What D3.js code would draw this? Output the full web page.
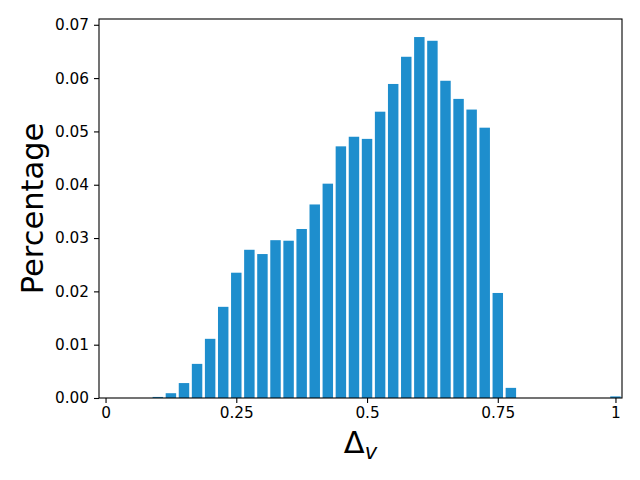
<!DOCTYPE html>
<html>
<head>
<meta charset="utf-8">
<script src="https://cdn.jsdelivr.net/npm/d3@7"></script>
<style>
  body { margin: 0; background: #fff; }
  svg { display: block; font-family: "DejaVu Sans", sans-serif; }
</style>
</head>
<body>
<svg id="chart" width="640" height="480"></svg>
<script>
// bin index on the x axis (40 bins)
var binIndex = d3.range(40);
// share of samples in each bin
var percentage = [
    0, 0, 0, 0, 0.0002, 0.0009, 0.0028, 0.0064, 0.0111, 0.0171,
    0.0235, 0.0278, 0.0270, 0.0296, 0.0295, 0.0317, 0.0363, 0.0402, 0.0472, 0.0490,
    0.0486, 0.0537, 0.0589, 0.0640, 0.0677, 0.0670, 0.0595, 0.0561, 0.0541, 0.0507,
    0.0197, 0.0019, 0, 0, 0, 0, 0, 0, 0, 0.0003
];
var xTickPos = [0, 10, 20, 30, 39];
var xTickLabels = ["0", "0.25", "0.5", "0.75", "1"];
var yTicks = [0, 0.01, 0.02, 0.03, 0.04, 0.05, 0.06, 0.07];

var plotLeft = 99, plotRight = 622, plotTop = 19, plotBottom = 398;
var barColor = "#1e8ecd";

var svg = d3.select("#chart");

var x = d3.scaleLinear().domain([-0.5, 39.5]).range([plotLeft, plotRight]);
var y = d3.scaleLinear().domain([0, d3.max(percentage) * 1.05]).range([plotBottom, plotTop]);

var data = binIndex.map(function (i) { return { i: i, v: percentage[i] }; });

svg.append("g").selectAll("rect")
    .data(data)
    .enter()
    .append("rect")
    .attr("x", function (d) { return x(d.i - 0.4); })
    .attr("width", function (d) { return x(d.i + 0.4) - x(d.i - 0.4); })
    .attr("y", function (d) { return y(d.v); })
    .attr("height", function (d) { return y(0) - y(d.v); })
    .attr("fill", barColor);

// axes
var xAxis = d3.axisBottom(x)
    .tickValues(xTickPos)
    .tickFormat(function (d, k) { return xTickLabels[k]; })
    .tickSize(5)
    .tickPadding(4);
var yAxis = d3.axisLeft(y)
    .tickValues(yTicks)
    .tickFormat(d3.format(".2f"))
    .tickSize(5)
    .tickPadding(5);

var gx = svg.append("g").attr("transform", "translate(0," + plotBottom + ")").call(xAxis);
var gy = svg.append("g").attr("transform", "translate(" + plotLeft + ",0)").call(yAxis);
[gx, gy].forEach(function (g) {
    g.attr("font-size", 15.3).attr("font-family", "DejaVu Sans");
    g.select(".domain").remove();
    g.selectAll("text").attr("fill", "#000");
    g.selectAll("line").attr("stroke", "#000").attr("stroke-width", 1.1);
});

// frame
svg.append("rect")
    .attr("x", plotLeft).attr("y", plotTop)
    .attr("width", plotRight - plotLeft).attr("height", plotBottom - plotTop)
    .attr("fill", "none").attr("stroke", "#000").attr("stroke-width", 1.1);

// axis labels
svg.append("text")
    .attr("transform", "translate(43," + (plotTop + plotBottom) / 2 + ") rotate(-90)")
    .attr("text-anchor", "middle")
    .attr("font-size", "30.5px")
    .text("Percentage");

var xl = svg.append("text")
    .attr("x", (plotLeft + plotRight) / 2)
    .attr("y", 453)
    .attr("text-anchor", "middle")
    .attr("font-size", "30.5px");
xl.append("tspan").text("Δ");
xl.append("tspan").attr("font-size", "21px").attr("font-style", "italic").attr("dy", 6).text("v");
</script>
</body>
</html>
